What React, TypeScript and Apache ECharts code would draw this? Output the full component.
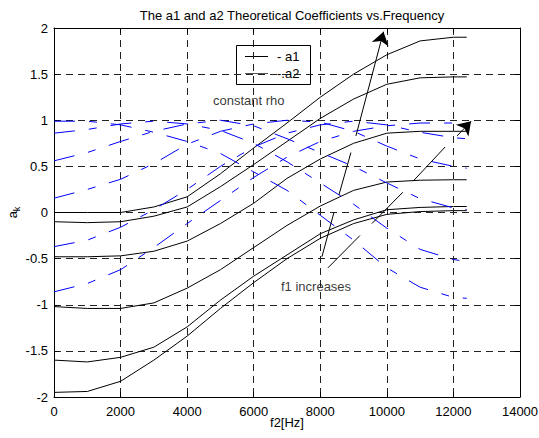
import React, { useEffect, useRef } from 'react';
import * as echarts from 'echarts';

const FONT = '"Liberation Sans", Arial, Helvetica, sans-serif';

const freq = [0, 1000, 2000, 3000, 4000, 5000, 6000, 7000, 8000, 9000, 10000, 11000, 12000, 12400];

// a1 curves (black solid)
const a1_1 = [0.0, 0.0, 0.0, 0.06, 0.17, 0.42, 0.7, 0.97, 1.25, 1.5, 1.71, 1.86, 1.9, 1.9];
const a1_2 = [-0.1, -0.11, -0.1, -0.04, 0.06, 0.28, 0.52, 0.77, 1.02, 1.23, 1.39, 1.46, 1.47, 1.47];
const a1_3 = [-0.48, -0.48, -0.47, -0.42, -0.31, -0.12, 0.1, 0.37, 0.58, 0.75, 0.86, 0.88, 0.88, 0.88];
const a1_4 = [-1.02, -1.04, -1.04, -0.98, -0.82, -0.62, -0.38, -0.14, 0.07, 0.24, 0.33, 0.35, 0.355, 0.355];
const a1_5 = [-1.6, -1.62, -1.57, -1.46, -1.24, -0.95, -0.69, -0.46, -0.23, -0.08, 0.03, 0.055, 0.065, 0.065];
const a1_6 = [-1.95, -1.94, -1.83, -1.6, -1.34, -1.04, -0.76, -0.5, -0.28, -0.12, -0.02, 0.01, 0.02, 0.02];

// a2 curves (blue dash-dot)
const a2_1 = [0.99, 0.99, 0.95, 0.87, 0.77, 0.64, 0.44, 0.24, -0.03, -0.3, -0.6, -0.81, -0.92, -0.93];
const a2_2 = [0.86, 0.9, 0.96, 0.99, 0.96, 0.89, 0.75, 0.55, 0.32, 0.09, -0.17, -0.4, -0.51, -0.53];
const a2_3 = [0.56, 0.65, 0.77, 0.88, 0.96, 1.0, 0.94, 0.8, 0.65, 0.5, 0.32, 0.15, 0.05, 0.03];
const a2_4 = [0.155, 0.25, 0.36, 0.53, 0.74, 0.88, 0.96, 1.0, 0.98, 0.88, 0.72, 0.58, 0.5, 0.48];
const a2_5 = [-0.37, -0.3, -0.16, 0.03, 0.25, 0.5, 0.71, 0.86, 0.95, 0.99, 0.95, 0.87, 0.81, 0.8];
const a2_6 = [-0.86, -0.77, -0.62, -0.38, -0.12, 0.13, 0.38, 0.6, 0.77, 0.88, 0.94, 0.97, 0.97, 0.97];

const a1Curves = [a1_1, a1_2, a1_3, a1_4, a1_5, a1_6];
const a2Curves = [a2_1, a2_2, a2_3, a2_4, a2_5, a2_6];

// annotation arrow pieces, in data coordinates
const arrowPlain = [
  [[8050, -0.48], [8410, 0.0]],
  [[8560, 0.19], [8920, 0.65]],
  [[8230, -0.6], [9190, -0.25]],
  [[9550, -0.12], [10480, 0.22]],
  [[10790, 0.34], [11750, 0.71]],
];
const arrowHeads = [
  [[9070, 0.83], [9900, 1.96]],
  [[12110, 0.83], [12530, 0.99]],
];

const notes = [
  { x: 4776, y: 1.21, text: 'constant rho' },
  { x: 6820, y: -0.805, text: 'f1 increases' },
];

const xTicks = { min: 0, max: 14000, interval: 2000 };
const yTicks = { min: -2, max: 2, interval: 0.5 };

export default function App() {
  const ref = useRef<HTMLDivElement>(null);
  useEffect(() => {
    document.body.style.margin = '0';
    if (!ref.current) return;
    const chart = echarts.init(ref.current, undefined, { renderer: 'svg' });
    const black = '#000';
    const gridLine = { show: true, lineStyle: { color: '#222', width: 1, type: [7, 5] as any } };
    const series: any[] = [];
    a1Curves.forEach((c, i) => {
      series.push({
        type: 'line',
        name: 'a1_' + i,
        data: freq.map((f, j) => [f, c[j]]),
        showSymbol: false,
        symbol: 'none',
        lineStyle: { color: '#000', width: 1 },
        z: 3,
      });
    });
    a2Curves.forEach((c, i) => {
      series.push({
        type: 'line',
        name: 'a2_' + i,
        data: freq.map((f, j) => [f, c[j]]),
        showSymbol: false,
        symbol: 'none',
        lineStyle: { color: '#0000ff', width: 1, type: [21, 14, 8, 14] },
        z: 4,
      });
    });
    series.push({
      type: 'lines',
      coordinateSystem: 'cartesian2d',
      data: arrowPlain.map((c) => ({ coords: c })),
      lineStyle: { color: '#000', width: 1, opacity: 1 },
      symbol: ['none', 'none'],
      z: 5,
    });
    series.push({
      type: 'lines',
      coordinateSystem: 'cartesian2d',
      data: arrowHeads.map((c) => ({ coords: c })),
      lineStyle: { color: '#000', width: 1, opacity: 1 },
      symbol: ['none', 'arrow'],
      symbolSize: [7, 13],
      z: 5,
    });
    series.push({
      type: 'scatter',
      data: notes.map((n) => ({ value: [n.x, n.y], name: n.text })),
      symbolSize: 0,
      label: {
        show: true,
        position: 'right',
        distance: 0,
        formatter: (p: any) => p.name,
        color: '#000',
        fontFamily: FONT,
        fontSize: 13,
      },
      z: 6,
    });

    chart.setOption({
      animation: false,
      backgroundColor: '#fff',
      title: {
        text: 'The a1 and a2 Theoretical Coefficients vs.Frequency',
        left: 287,
        textAlign: 'center',
        top: 4,
        textStyle: { fontFamily: FONT, fontSize: 13, fontWeight: 'normal', color: '#000' },
      },
      grid: { left: 54, right: 19, top: 28, bottom: 41, containLabel: false, outerBoundsMode: 'none' },
      xAxis: [
        {
          type: 'value',
          ...xTicks,
          position: 'bottom',
          name: 'f2[Hz]',
          nameLocation: 'middle',
          nameGap: 19,
          nameMoveOverlap: false,
          nameTextStyle: { fontFamily: FONT, fontSize: 13, color: '#000' },
          axisLine: { show: true, onZero: false, lineStyle: { color: black, width: 1 } },
          axisTick: { show: true, inside: true, length: 5, lineStyle: { color: black } },
          axisLabel: {
            fontFamily: FONT,
            fontSize: 13,
            color: '#000',
            margin: 8,
            formatter: (v: number) => String(v),
          },
          splitLine: gridLine,
        },
        {
          type: 'value',
          ...xTicks,
          position: 'top',
          axisLine: { show: true, onZero: false, lineStyle: { color: black, width: 1 } },
          axisTick: { show: true, inside: true, length: 5, lineStyle: { color: black } },
          axisLabel: { show: false },
          splitLine: { show: false },
        },
      ],
      yAxis: [
        {
          type: 'value',
          ...yTicks,
          position: 'left',
          name: '{a|a}{k|k}',
          nameLocation: 'middle',
          nameGap: 33,
          nameRotate: 90,
          nameMoveOverlap: false,
          nameTextStyle: {
            fontFamily: FONT,
            color: '#000',
            rich: {
              a: { fontFamily: FONT, fontSize: 13, color: '#000' },
              k: { fontFamily: FONT, fontSize: 9, color: '#000', padding: [8, 0, 0, 0] },
            },
          },
          axisLine: { show: true, onZero: false, lineStyle: { color: black, width: 1 } },
          axisTick: { show: true, inside: true, length: 5, lineStyle: { color: black } },
          axisLabel: {
            fontFamily: FONT,
            fontSize: 13,
            color: '#000',
            margin: 6,
            formatter: (v: number) => String(v),
          },
          splitLine: gridLine,
        },
        {
          type: 'value',
          ...yTicks,
          position: 'right',
          axisLine: { show: true, onZero: false, lineStyle: { color: black, width: 1 } },
          axisTick: { show: true, inside: true, length: 5, lineStyle: { color: black } },
          axisLabel: { show: false },
          splitLine: { show: false },
        },
      ],
      graphic: [
        {
          type: 'group',
          z: 100,
          children: [
            { type: 'rect', shape: { x: 236.5, y: 45.5, width: 74, height: 39 }, style: { fill: '#fff', stroke: '#000', lineWidth: 1 } },
            { type: 'line', shape: { x1: 245, y1: 56.5, x2: 268, y2: 56.5 }, style: { stroke: '#000', lineWidth: 1 } },
            { type: 'line', shape: { x1: 245, y1: 73.5, x2: 268, y2: 73.5 }, style: { stroke: '#555', lineWidth: 1 } },
            { type: 'text', x: 277, y: 56.5, style: { text: '- a1', font: '13px ' + FONT, fill: '#000', verticalAlign: 'middle' } },
            { type: 'text', x: 277, y: 73.5, style: { text: '-.a2', font: '13px ' + FONT, fill: '#000', verticalAlign: 'middle' } },
          ],
        },
      ],
      series,
    });
    return () => chart.dispose();
  }, []);
  return <div ref={ref} style={{ width: 539, height: 438 }} />;
}
